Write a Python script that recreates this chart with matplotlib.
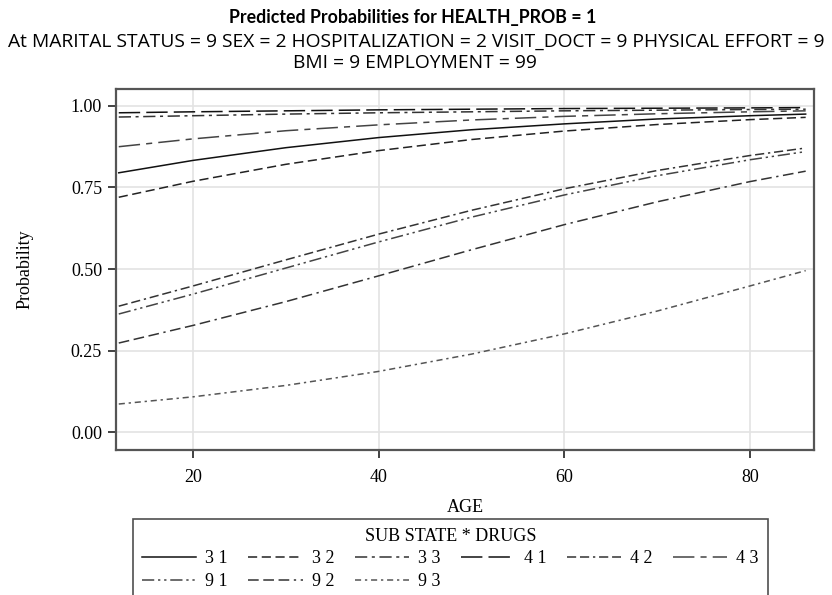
import matplotlib
matplotlib.use("Agg")
import matplotlib.pyplot as plt

# predicted probabilities read at these ages
ages = [12, 20, 30, 40, 50, 60, 70, 80, 86]

p_31 = [0.795, 0.833, 0.872, 0.903, 0.927, 0.945, 0.960, 0.970, 0.975]
p_32 = [0.720, 0.769, 0.821, 0.863, 0.897, 0.923, 0.943, 0.958, 0.965]
p_33 = [0.966, 0.970, 0.975, 0.979, 0.982, 0.985, 0.987, 0.989, 0.990]
p_41 = [0.979, 0.982, 0.985, 0.988, 0.990, 0.992, 0.993, 0.994, 0.995]
p_42 = [0.386, 0.448, 0.528, 0.607, 0.680, 0.746, 0.802, 0.848, 0.871]
p_43 = [0.875, 0.899, 0.924, 0.942, 0.957, 0.968, 0.976, 0.982, 0.985]
p_91 = [0.362, 0.423, 0.503, 0.583, 0.659, 0.727, 0.786, 0.835, 0.860]
p_92 = [0.273, 0.327, 0.400, 0.479, 0.559, 0.636, 0.706, 0.768, 0.800]
p_93 = [0.086, 0.108, 0.143, 0.186, 0.239, 0.301, 0.371, 0.448, 0.495]

groups = ["3 1", "3 2", "3 3", "4 1", "4 2", "4 3", "9 1", "9 2", "9 3"]
series = [p_31, p_32, p_33, p_41, p_42, p_43, p_91, p_92, p_93]

x_ticks = [20, 40, 60, 80]
y_ticks = [0.0, 0.25, 0.50, 0.75, 1.00]

# one dash pattern per group
styles = {
    "3 1": ("-", "#111111"),
    "3 2": ((0, (6, 3)), "#222222"),
    "3 3": ((0, (8, 3, 2, 3)), "#333333"),
    "4 1": ((0, (14, 4)), "#111111"),
    "4 2": ((0, (6, 2.5, 6, 2.5, 1.5, 2.5)), "#333333"),
    "4 3": ((0, (14, 4, 4, 4)), "#444444"),
    "9 1": ((0, (8, 2.5, 1.5, 2.5, 1.5, 2.5)), "#444444"),
    "9 2": ((0, (7, 3, 7, 3, 7, 3, 1.5, 3)), "#333333"),
    "9 3": ((0, (4, 2.5, 1.5, 2.5)), "#555555"),
}

serif = "Liberation Serif"
sans = "Open Sans"


def main():
    fig = plt.figure(figsize=(8.32, 5.95), dpi=100)
    ax = fig.add_axes([0.1394, 0.2437, 0.839, 0.6073])

    lines = {}
    for name, vals in zip(groups, series):
        ls, col = styles[name]
        lines[name], = ax.plot(ages, vals, linestyle=ls, color=col,
                               linewidth=1.1, label=name)

    ax.set_xlim(11.7, 86.9)
    ax.set_ylim(-0.055, 1.053)
    ax.set_xticks(x_ticks)
    ax.set_yticks(y_ticks)
    ax.set_xticklabels([str(t) for t in x_ticks], fontfamily=serif, fontsize=13)
    ax.set_yticklabels(["{:.2f}".format(t) for t in y_ticks], fontfamily=serif, fontsize=13)
    ax.tick_params(direction="out", length=6, width=1.3, color="#333333", pad=4)
    ax.tick_params(axis="x", pad=8)
    ax.grid(True, color="#e3e3e3", linewidth=1.2)
    ax.set_axisbelow(True)
    for s in ax.spines.values():
        s.set_color("#555555")
        s.set_linewidth(1.6)

    ax.set_xlabel("AGE", fontfamily=serif, fontsize=13, labelpad=9)
    ax.set_ylabel("Probability", fontfamily=serif, fontsize=13, labelpad=27)

    fig.text(0.4958, 0.970, "Predicted Probabilities for HEALTH_PROB = 1",
             ha="center", va="center", fontfamily="Lato", fontweight="bold",
             fontsize=12.8)
    fig.text(0.5, 0.929,
             "At MARITAL STATUS = 9 SEX = 2 HOSPITALIZATION = 2 VISIT_DOCT = 9 PHYSICAL EFFORT = 9",
             ha="center", va="center", fontfamily=sans, fontsize=13.9)
    fig.text(0.4988, 0.894, "BMI = 9 EMPLOYMENT = 99",
             ha="center", va="center", fontfamily=sans, fontsize=13.9)

    # legend is filled column by column, so interleave to get rows 3x / 4x then 9x
    order = ["3 1", "9 1", "3 2", "9 2", "3 3", "9 3", "4 1", "4 2", "4 3"]
    top = 1 - 519 / 595
    leg = fig.legend([lines[k] for k in order], order, ncol=6, loc="upper left",
                     bbox_to_anchor=(133 / 832, top - 0.2, (768 - 133) / 832, 0.2),
                     mode="expand", frameon=True, fancybox=False,
                     edgecolor="#222222", title="SUB STATE * DRUGS",
                     prop={"family": serif, "size": 13},
                     title_fontproperties={"family": serif, "size": 13},
                     handlelength=3.0, handletextpad=0.5, borderpad=0.5,
                     labelspacing=0.3, borderaxespad=0)
    leg.get_frame().set_linewidth(1.2)

    fig.savefig("out.png", dpi=100)


if __name__ == "__main__":
    main()
